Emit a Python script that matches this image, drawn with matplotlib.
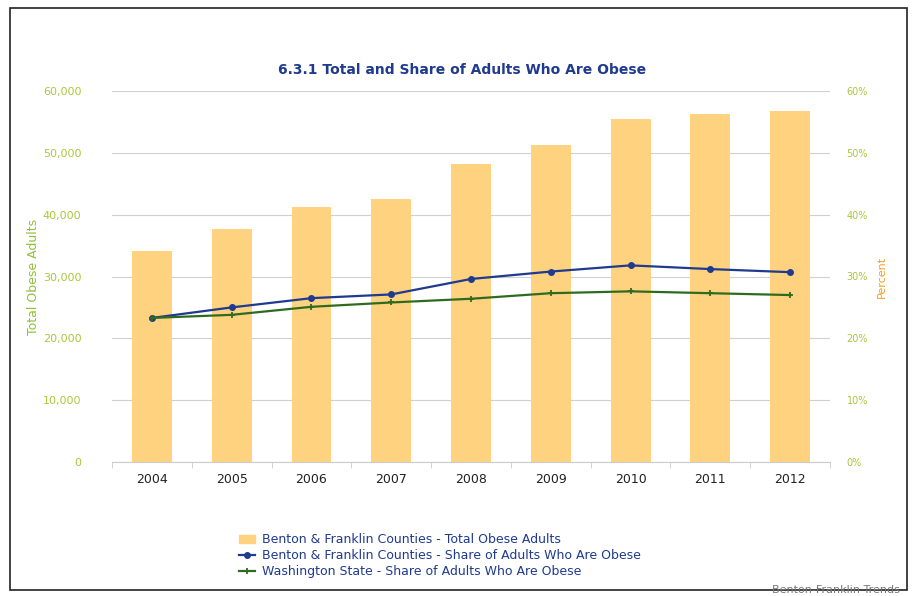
import matplotlib
matplotlib.use("Agg")
import matplotlib.pyplot as plt
from matplotlib.patches import Rectangle
from matplotlib.lines import Line2D
import numpy as np

years = ["2004", "2005", "2006", "2007", "2008", "2009", "2010", "2011", "2012"]
total_obese = [34100, 37700, 41300, 42600, 48200, 51300, 55500, 56300, 56800]
bf_share = [23.3, 25.0, 26.5, 27.1, 29.6, 30.8, 31.8, 31.2, 30.7]
wa_share = [23.3, 23.8, 25.1, 25.8, 26.4, 27.3, 27.6, 27.3, 27.0]
left_ticks = [0, 10000, 20000, 30000, 40000, 50000, 60000]
right_ticks = [0, 10, 20, 30, 40, 50, 60]

bar_color = "#FFD27F"
blue = "#1f3a8f"
green = "#2f6b1f"
tick_green = "#a8c83a"

fig = plt.figure(figsize=(9.19, 5.96), dpi=100)
fig.patches.append(Rectangle((10/919, 6/596), 897/919, 582/596, transform=fig.transFigure,
                             fill=False, edgecolor="#222222", linewidth=1.2))

ax = fig.add_axes([112/919, 1-462/596, 718/919, 371/596])
x = np.arange(len(years))
ax.bar(x, total_obese, width=0.5, color=bar_color, zorder=2)
ax.set_xlim(-0.5, len(years)-0.5)
ax.set_ylim(0, 60000)
ax.set_yticks(left_ticks)
ax.set_yticklabels([f"{v:,}" for v in left_ticks], color=tick_green, fontsize=8)
ax.set_xticks(x)
ax.set_xticklabels(years, fontsize=9, color="#222222")
ax.tick_params(axis="x", length=0, pad=8)
ax.tick_params(axis="y", length=0, pad=22)
ax.grid(axis="y", color="#d0d0d0", linewidth=0.8, zorder=0)
for s in ["top", "right", "left"]:
    ax.spines[s].set_visible(False)
ax.spines["bottom"].set_color("#cccccc")
ax.set_ylabel("Total Obese Adults", color="#8fbf3a", fontsize=9, labelpad=2)
ax.set_xticks(np.arange(len(years)+1)-0.5, minor=True)
ax.tick_params(axis="x", which="minor", length=4, color="#cccccc")

ax2 = ax.twinx()
ax2.plot(x, bf_share, color=blue, marker="o", markersize=4, linewidth=1.6, zorder=3)
ax2.plot(x, wa_share, color=green, marker="+", markersize=5, markeredgewidth=1.3, linewidth=1.6, zorder=3)
ax2.set_ylim(0, 60)
ax2.set_yticks(right_ticks)
ax2.set_yticklabels([f"{v}%" for v in right_ticks], color=tick_green, fontsize=7)
ax2.tick_params(axis="y", length=0, pad=12)
for s in ["top", "right", "left", "bottom"]:
    ax2.spines[s].set_visible(False)
ax2.set_ylabel("Percent", color="#f0a020", fontsize=8, labelpad=6)

fig.text(462/919, 1-70/596, "6.3.1 Total and Share of Adults Who Are Obese",
         ha="center", va="center", fontsize=10, fontweight="bold", color="#1f3a8f")

handles = [
    Rectangle((0, 0), 1, 1, color=bar_color),
    Line2D([], [], color=blue, marker="o", markersize=4, linewidth=1.6),
    Line2D([], [], color=green, marker="+", markersize=5, markeredgewidth=1.3, linewidth=1.6),
]
labels = [
    "Benton & Franklin Counties - Total Obese Adults",
    "Benton & Franklin Counties - Share of Adults Who Are Obese",
    "Washington State - Share of Adults Who Are Obese",
]
leg = fig.legend(handles, labels, loc="upper left", bbox_to_anchor=(233/919, 1-527/596),
                 frameon=False, fontsize=9, handlelength=1.3, handletextpad=0.5,
                 labelspacing=0.25, borderpad=0)
for t in leg.get_texts():
    t.set_color("#1f3a8f")

fig.text(900/919, 1-590/596, "Benton-Franklin Trends", ha="right", va="center",
         fontsize=8, color="#777777")

fig.savefig("out.png", dpi=100)
